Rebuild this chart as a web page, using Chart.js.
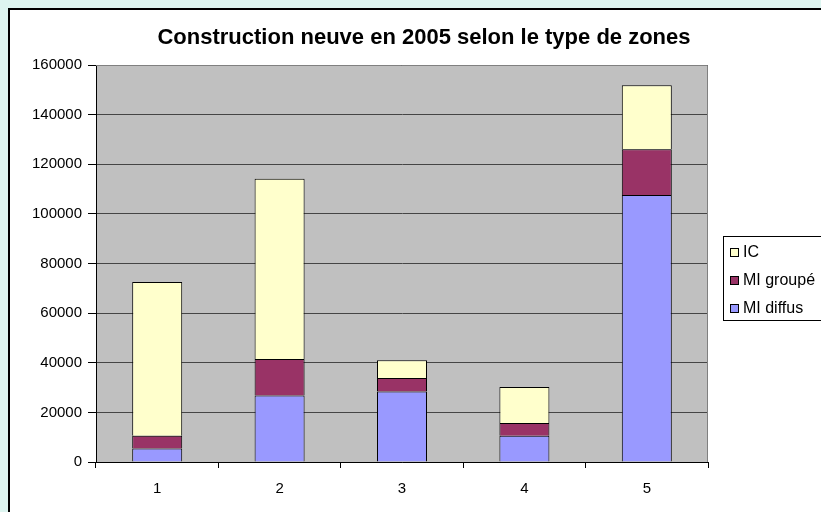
<!DOCTYPE html>
<html>
<head>
<meta charset="utf-8">
<script src="https://cdn.jsdelivr.net/npm/chart.js@4/dist/chart.umd.min.js"></script>
<style>
  html, body { margin: 0; padding: 0; width: 821px; height: 512px; overflow: hidden; background: #ddf5f0; }
  #frame { position: absolute; left: 8px; top: 8px; width: 900px; height: 600px; background: #ffffff; border: 2px solid #000; }
  #wrap { position: absolute; left: 0; top: 0; width: 821px; height: 512px; }
</style>
</head>
<body>
<div id="frame"></div>
<div id="wrap"><canvas id="c" width="821" height="512"></canvas></div>
<script>
const titleText = "Construction neuve en 2005 selon le type de zones";
const categories = ["1", "2", "3", "4", "5"];
const seriesNames = ["MI diffus", "MI groupé", "IC"];
const miDiffus = [5400, 26800, 28400, 10600, 107600];
const miGroupe = [5200, 14700, 5500, 5100, 18400];
const ic = [61900, 72700, 7100, 14500, 25800];
const yTicks = [0, 20000, 40000, 60000, 80000, 100000, 120000, 140000, 160000];
const seriesColors = ["#9999ff", "#993366", "#ffffcc"];

const FONT = '"Liberation Sans", Arial, sans-serif';

const decor = {
  id: 'decor',
  beforeDraw(chart) {
    const a = chart.chartArea, ctx = chart.ctx;
    ctx.save();
    ctx.fillStyle = '#c0c0c0';
    ctx.fillRect(a.left, a.top, a.right - a.left, a.bottom - a.top);
    ctx.restore();
  },
  afterDraw(chart) {
    const a = chart.chartArea, ctx = chart.ctx;
    ctx.save();
    ctx.strokeStyle = '#808080';
    ctx.lineWidth = 1;
    ctx.beginPath();
    ctx.moveTo(a.left, Math.round(a.top) + 0.5);
    ctx.lineTo(Math.round(a.right) - 0.5, Math.round(a.top) + 0.5);
    ctx.lineTo(Math.round(a.right) - 0.5, a.bottom);
    ctx.stroke();
    // title
    ctx.fillStyle = '#000';
    ctx.font = 'bold 22px ' + FONT;
    ctx.textAlign = 'center';
    ctx.textBaseline = 'middle';
    ctx.fillText(titleText, 424, 38);
    // legend
    const lx = 723, ly = 236, lh = 84;
    ctx.fillStyle = '#fff';
    ctx.fillRect(lx, ly, 200, lh);
    ctx.strokeStyle = '#000';
    ctx.strokeRect(lx + 0.5, ly + 0.5, 200, lh);
    ctx.font = '16px ' + FONT;
    ctx.textAlign = 'left';
    const ds = chart.data.datasets.slice().reverse();
    ds.forEach((d, i) => {
      const cy = 252 + i * 28;
      ctx.fillStyle = d.backgroundColor;
      ctx.fillRect(730, cy - 4, 9, 9);
      ctx.strokeStyle = '#000';
      ctx.strokeRect(730.5, cy - 3.5, 8, 8);
      ctx.fillStyle = '#000';
      ctx.fillText(d.label, 743, cy + 1);
    });
    ctx.restore();
  }
};

const values = [miDiffus, miGroupe, ic];
new Chart(document.getElementById('c'), {
  type: 'bar',
  data: {
    labels: categories,
    datasets: seriesNames.map((n, i) => ({
      label: n,
      data: values[i],
      backgroundColor: seriesColors[i],
      borderColor: '#000',
      borderWidth: 1,
      barPercentage: 0.4085,
      categoryPercentage: 1
    }))
  },
  options: {
    responsive: false,
    animation: false,
    devicePixelRatio: 1,
    layout: { padding: { left: 0, top: 65, right: 113, bottom: 0 } },
    plugins: { legend: { display: false }, title: { display: false }, tooltip: { enabled: false } },
    scales: {
      x: {
        stacked: true,
        afterFit(s) { s.height = 50; },
        grid: { offset: true, drawOnChartArea: false, drawTicks: true, tickLength: 6, color: '#000', tickColor: '#000' },
        border: { color: '#000', width: 1 },
        ticks: { color: '#000', font: { family: FONT, size: 15 }, padding: 12 }
      },
      y: {
        stacked: true,
        min: 0, max: 160000,
        afterFit(s) { s.width = 96; },
        afterBuildTicks(s) { s.ticks = yTicks.map(v => ({ value: v })); },
        grid: { color: '#454545', lineWidth: 1, drawTicks: true, tickLength: 8, tickColor: '#000' },
        border: { color: '#000', width: 1 },
        ticks: { color: '#000', font: { family: FONT, size: 15 }, padding: 6, callback: v => String(v) }
      }
    }
  },
  plugins: [decor]
});
</script>
</body>
</html>
